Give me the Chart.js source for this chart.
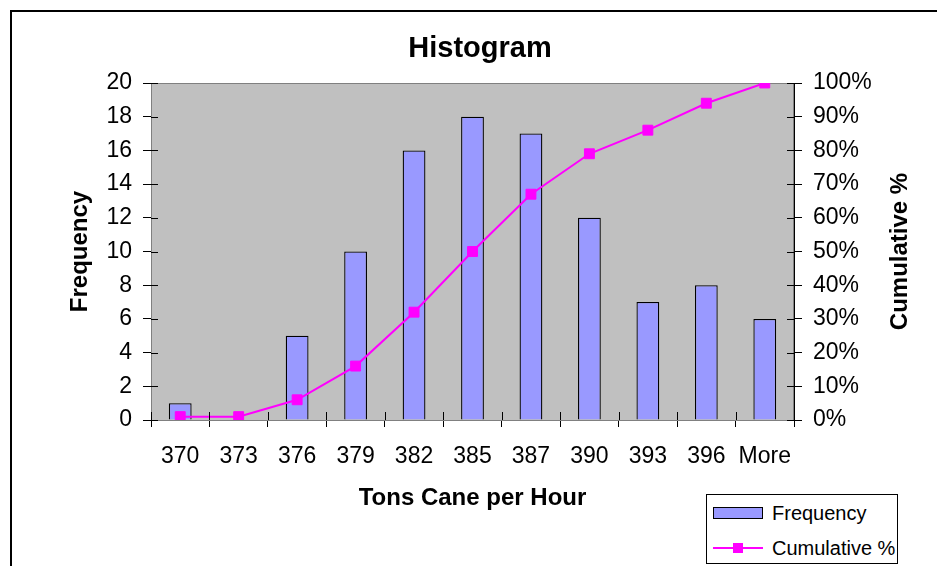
<!DOCTYPE html>
<html>
<head>
<meta charset="utf-8">
<title>Histogram</title>
<script src="https://cdn.jsdelivr.net/npm/chart.js@4/dist/chart.umd.min.js"></script>
<style>
  html, body { margin: 0; padding: 0; background: #fff; overflow: hidden; }
  #wrap { position: relative; width: 937px; height: 566px; }
  #frame { position: absolute; left: 10px; top: 10px; width: 1000px; height: 1000px; border: 2px solid #000; box-sizing: border-box; }
  #histo { position: absolute; left: 0; top: 0; }
  #legend {
    position: absolute; left: 706px; top: 494px; width: 192px; height: 70px;
    border: 1px solid #000; background: #fff; box-sizing: border-box;
    font-family: "Liberation Sans", Arial, sans-serif; font-size: 20px; color: #000;
  }
  .row { position: absolute; left: 0; height: 24px; display: flex; align-items: center; }
  .sw { width: 50px; height: 12px; margin-left: 6px; margin-right: 9px; position: relative; box-sizing: border-box; }
  .sw.bar { border: 1.5px solid #000; }
  .sw.line .ln { position: absolute; left: 0; right: 0; top: 5px; height: 2px; }
  .sw.line .pt { position: absolute; left: 20px; top: 1px; width: 10px; height: 10px; }
</style>
</head>
<body>
<div id="wrap">
  <div id="frame"></div>
  <canvas id="histo" width="937" height="566"></canvas>
  <div id="legend"></div>
</div>
<script>
const categories = ['370', '373', '376', '379', '382', '385', '387', '390', '393', '396', 'More'];
const frequency = [1, 0, 5, 10, 16, 18, 17, 12, 7, 8, 6];
const cumulativePct = [1, 1, 6, 16, 32, 50, 67, 79, 86, 94, 100];

const BAR_COLOR = '#9999FF';
const LINE_COLOR = '#FF00FF';
const FONT = '"Liberation Sans", Arial, sans-serif';

// Fond gris de la zone de tracé, graduations qui traversent les axes, titres
const plotArea = {
  id: 'plotArea',
  beforeDatasetsDraw(chart) {
    const { ctx, chartArea: a } = chart;
    ctx.save();
    ctx.fillStyle = '#C0C0C0';
    ctx.fillRect(a.left, a.top, a.right - a.left, a.bottom - a.top);
    ctx.strokeStyle = '#808080';
    ctx.lineWidth = 1;
    ctx.strokeRect(a.left + 0.5, a.top + 0.5, a.right - a.left - 1, a.bottom - a.top);
    ctx.restore();
  },
  afterDraw(chart) {
    const { ctx, chartArea: a, scales } = chart;
    ctx.save();
    ctx.strokeStyle = '#000';
    ctx.lineWidth = 1;
    ctx.beginPath();
    scales.y.ticks.forEach((t, i) => {
      const py = Math.round(scales.y.getPixelForTick(i)) + 0.5;
      ctx.moveTo(a.left, py); ctx.lineTo(a.left + 7, py);
    });
    scales.y1.ticks.forEach((t, i) => {
      const py = Math.round(scales.y1.getPixelForTick(i)) + 0.5;
      ctx.moveTo(a.right - 7, py); ctx.lineTo(a.right, py);
    });
    for (let i = 0; i <= categories.length; i++) {
      const px = Math.round(scales.x.getPixelForValue(i - 0.5)) + 0.5;
      ctx.moveTo(px, a.bottom - 8); ctx.lineTo(px, a.bottom);
    }
    ctx.stroke();

    ctx.fillStyle = '#000';
    ctx.textAlign = 'center';
    ctx.textBaseline = 'middle';

    // Titre principal (centré comme dans Excel, un peu à droite du milieu)
    ctx.font = 'bold 29px ' + FONT;
    ctx.fillText('Histogram', 480, 49);

    // Titre de l'axe de droite, lu de bas en haut
    ctx.font = 'bold 24px ' + FONT;
    ctx.translate(900, (a.top + a.bottom) / 2);
    ctx.rotate(-Math.PI / 2);
    ctx.fillText('Cumulative %', 0, 0);
    ctx.restore();
  }
};

const tickFont = { family: FONT, size: 23 };
const axisGrid = { drawOnChartArea: false, color: '#000', lineWidth: 1, tickLength: 8 };

const chart = new Chart(document.getElementById('histo'), {
  data: {
    labels: categories,
    datasets: [
      {
        type: 'line',
        label: 'Cumulative %',
        data: cumulativePct,
        yAxisID: 'y1',
        order: 0,
        borderColor: LINE_COLOR,
        backgroundColor: LINE_COLOR,
        borderWidth: 2,
        tension: 0,
        pointStyle: 'rect',
        pointRadius: 7,
        pointBorderWidth: 1,
        pointBackgroundColor: LINE_COLOR,
        pointBorderColor: LINE_COLOR
      },
      {
        type: 'bar',
        label: 'Frequency',
        data: frequency,
        yAxisID: 'y',
        order: 1,
        backgroundColor: BAR_COLOR,
        borderColor: '#000',
        borderWidth: 1.3,
        categoryPercentage: 1,
        barPercentage: 0.39
      }
    ]
  },
  options: {
    responsive: false,
    animation: false,
    devicePixelRatio: 1,
    layout: { padding: { top: 83, left: 0, right: 0, bottom: 0 } },
    plugins: {
      legend: { display: false },
      tooltip: { enabled: false },
      title: { display: false }
    },
    scales: {
      x: {
        type: 'category',
        offset: true,
        grid: { ...axisGrid, offset: true, tickLength: 7 },
        border: { color: '#000', width: 1 },
        ticks: { font: tickFont, color: '#000', padding: 16, autoSkip: false, maxRotation: 0 },
        title: {
          display: true,
          text: 'Tons Cane per Hour',
          color: '#000',
          font: { family: FONT, size: 24, weight: 'bold' },
          padding: { top: 0, bottom: 53 }
        },
        afterFit(s) { s.height = 146; }
      },
      y: {
        position: 'left',
        min: 0,
        max: 20,
        grid: axisGrid,
        border: { color: '#000', width: 1 },
        ticks: { font: tickFont, color: '#000', stepSize: 2, padding: 11 },
        title: {
          display: true,
          text: 'Frequency',
          color: '#000',
          font: { family: FONT, size: 24, weight: 'bold' },
          padding: { top: 66, bottom: 0 }
        },
        afterFit(s) { s.width = 151; }
      },
      y1: {
        position: 'right',
        min: 0,
        max: 100,
        grid: axisGrid,
        border: { color: '#000', width: 1 },
        ticks: { font: tickFont, color: '#000', stepSize: 10, padding: 11, callback: v => v + '%' },
        afterFit(s) { s.width = 143; }
      }
    }
  },
  plugins: [plotArea]
});

// Légende encadrée en bas à droite, construite à partir des séries
const legendEl = document.getElementById('legend');
const legendOrder = ['Frequency', 'Cumulative %'];
legendOrder.forEach((name, i) => {
  const ds = chart.data.datasets.find(d => d.label === name);
  const row = document.createElement('div');
  row.className = 'row';
  row.style.top = (i === 0 ? 6 : 41) + 'px';
  const sw = document.createElement('div');
  if (ds.type === 'bar') {
    sw.className = 'sw bar';
    sw.style.background = ds.backgroundColor;
  } else {
    sw.className = 'sw line';
    sw.innerHTML = '<div class="ln" style="background:' + ds.borderColor + '"></div>' +
                   '<div class="pt" style="background:' + ds.borderColor + '"></div>';
  }
  const txt = document.createElement('span');
  txt.textContent = ds.label;
  row.appendChild(sw);
  row.appendChild(txt);
  legendEl.appendChild(row);
});
</script>
</body>
</html>
